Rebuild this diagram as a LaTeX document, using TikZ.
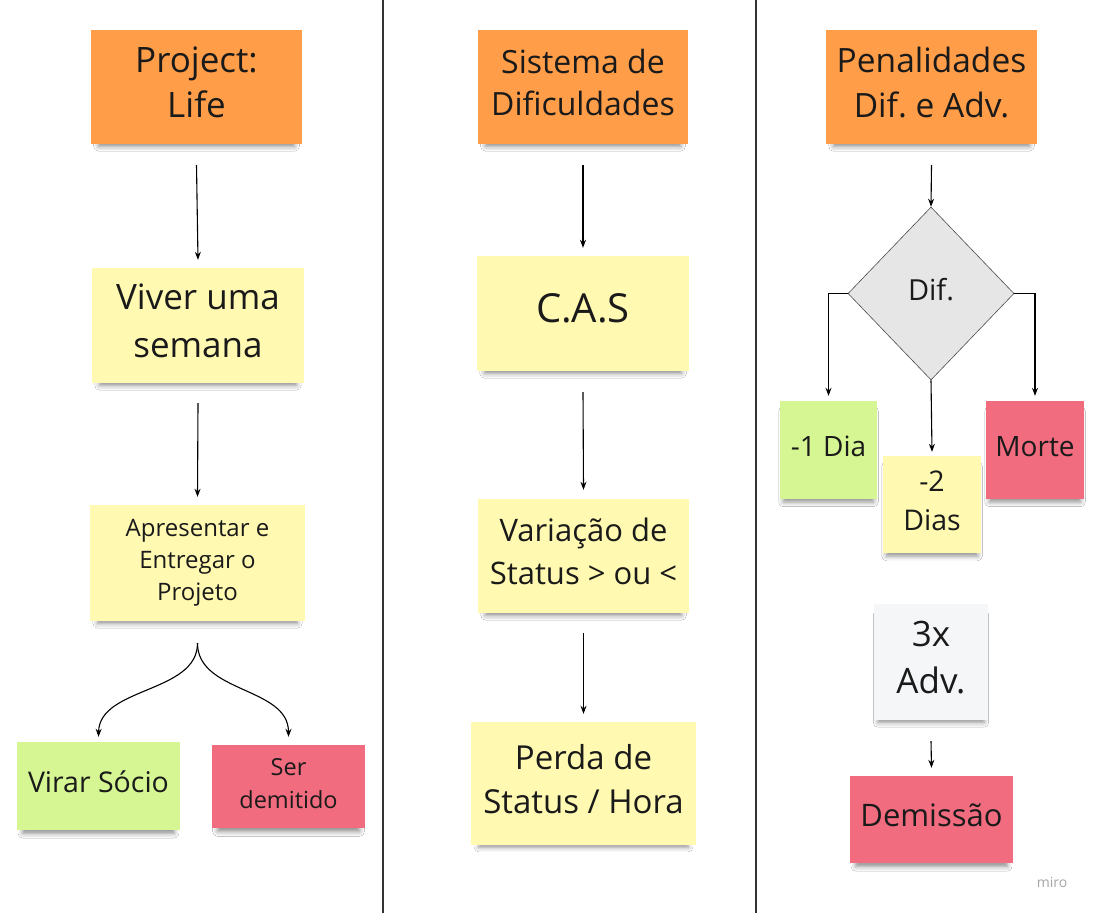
\documentclass[tikz,border=0pt]{standalone}
\usepackage{fontspec}
\setmainfont{Open Sans}
\frenchspacing
\usetikzlibrary{arrows.meta,shapes.geometric,shadows.blur}
\definecolor{cOrange}{HTML}{FF9D48}
\definecolor{cYellow}{HTML}{FFF9B1}
\definecolor{cGreen}{HTML}{D5F692}
\definecolor{cRed}{HTML}{F16C7F}
\definecolor{cGrayNote}{HTML}{F5F6F8}
\definecolor{cDiamond}{HTML}{E6E6E6}
\definecolor{cText}{HTML}{1A1A1A}
\definecolor{cLine}{HTML}{333333}
\newcommand{\dstrut}{\rule[-0.28em]{0pt}{0pt}}
\tikzset{
  sticky/.style={rectangle, inner sep=2pt, align=center, text=cText,
    execute at end node=\dstrut,
    blur shadow={shadow xshift=0pt, shadow yshift=-7pt, shadow scale=0.93,
      shadow blur radius=5pt, shadow opacity=45}},
  arr/.style={draw=black, line width=1.1pt, -{Stealth[length=8pt,width=6pt]}},
  fs/.style n args={2}{font=\fontsize{#1}{#2}\selectfont},
}
\begin{document}
\begin{tikzpicture}[x=1pt,y=-1pt]
\useasboundingbox[fill=white] (0,0) rectangle (1094,913);
% column separators
\draw[cLine, line width=1.4pt] (383,0) -- (383,913);
\draw[cLine, line width=1.4pt] (756,0) -- (756,913);

% left column
\node[sticky, fill=cOrange, minimum width=211, minimum height=114, fs={35}{45}] (p1) at (196.5,87) {Project:\\Life};
\node[sticky, fill=cYellow, minimum width=212, minimum height=115, fs={35}{48}] (p2) at (198,325.5) {Viver uma\\semana};
\node[sticky, fill=cYellow, minimum width=215, minimum height=116, fs={24}{32}] (p3) at (197.5,563) {Apresentar e\\Entregar o\\Projeto};
\node[sticky, fill=cGreen, minimum width=163, minimum height=88, fs={28.5}{40}] (p4) at (98.5,786) {Virar Sócio};
\node[sticky, fill=cRed, minimum width=153, minimum height=83, fs={23.5}{33}] (p5) at (288.5,786.5) {Ser\\demitido};

\draw[arr] ([yshift=-21pt]p1.south) -- ([yshift=8pt]p2.north);
\draw[arr] ([yshift=-20pt]p2.south) -- ([yshift=8pt]p3.north);
\coordinate (split) at ([yshift=-22pt]p3.south);
\draw[arr] (split) .. controls ([yshift=-50pt]split) and ([yshift=55pt,xshift=1pt]p4.north) .. ([yshift=5pt]p4.north);
\draw[arr] (split) .. controls ([yshift=-50pt]split) and ([yshift=58pt]p5.north) .. ([yshift=8pt]p5.north);

% middle column
\node[sticky, fill=cOrange, minimum width=210, minimum height=114, fs={32}{42}] (m1) at (583,87) {Sistema de\\Dificuldades};
\node[sticky, fill=cYellow, minimum width=212, minimum height=115, fs={40}{48}] (m2) at (583,313.5) {C.A.S};
\node[sticky, fill=cYellow, minimum width=211, minimum height=114, fs={31}{43}] (m3) at (583.5,556) {Variação de\\Status > ou <};
\node[sticky, fill=cYellow, minimum width=225, minimum height=123, fs={33}{44}] (m4) at (583.5,783.5) {Perda de\\Status / Hora};

\draw[arr] ([yshift=-21pt]m1.south) -- ([yshift=8pt]m2.north);
\draw[arr] ([yshift=-21pt]m2.south) -- ([yshift=9pt]m3.north);
\draw[arr] ([yshift=-20pt]m3.south) -- ([yshift=8pt]m4.north);

% right column
\node[sticky, fill=cOrange, minimum width=211, minimum height=114, fs={33.5}{45}] (r1) at (931.5,87) {Penalidades\\Dif. e Adv.};
\node[diamond, draw=black!70, line width=0.6pt, fill=cDiamond, inner sep=0pt, aspect=0.96,
      minimum width=166, minimum height=173, text=cText, fs={29}{32},
      execute at end node=\dstrut] (d) at (931,293.5) {Dif.};
\node[sticky, fill=cGreen, minimum width=97, minimum height=98, fs={28}{34}] (r2) at (828.5,450) {-1 Dia};
\node[sticky, fill=cYellow, minimum width=98, minimum height=97, fs={28.5}{39}] (r3) at (932,504.5) {-2\\Dias};
\node[sticky, fill=cRed, minimum width=98, minimum height=98, fs={28}{34}] (r4) at (1035,450) {Morte};
\node[sticky, fill=cGrayNote, minimum width=114, minimum height=116, fs={35}{47}] (r5) at (931,662) {3x\\Adv.};
\node[sticky, fill=cRed, minimum width=163, minimum height=87, fs={31}{40}] (r6) at (931.5,819.5) {Demissão};

\draw[arr] ([yshift=-21pt]r1.south) -- (d.north);
\draw[arr] (d.west) -| ([yshift=5pt]r2.north);
\draw[arr] (d.east) -| ([yshift=5pt]r4.north);
\draw[arr] (d.south) -- ([yshift=4pt]r3.north);
\draw[arr] ([yshift=-21pt]r5.south) -- ([yshift=8pt]r6.north);

\node[text=black!35, font=\fontsize{14}{16}\selectfont] (miro) at (1052,882) {miro};
\end{tikzpicture}
\end{document}
